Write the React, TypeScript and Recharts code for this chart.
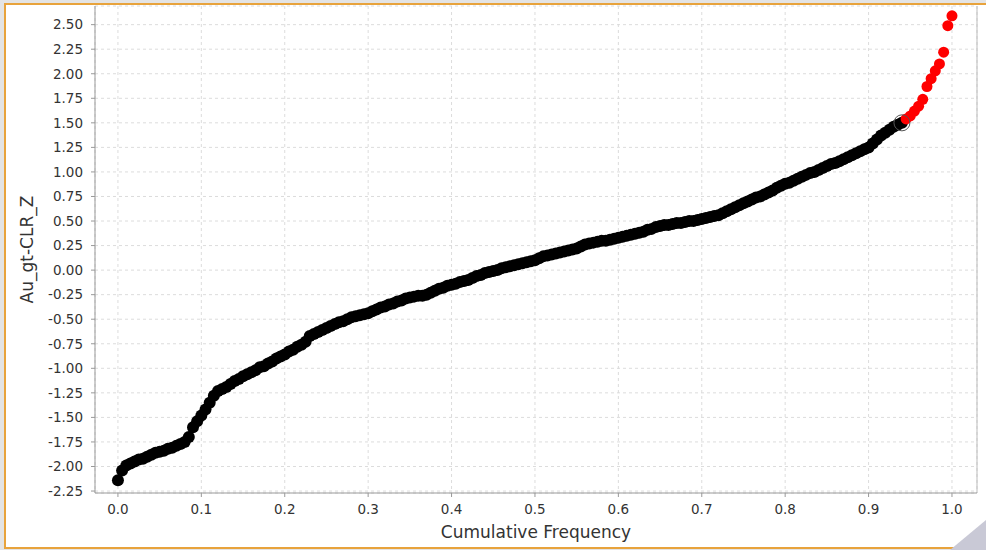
import { ScatterChart, Scatter, XAxis, YAxis, CartesianGrid, ReferenceLine } from 'recharts';

// Au_gt-CLR_Z values, sorted (cumulative frequency = rank / (n - 1))
const zValues = [
  -2.14, -2.04, -1.99, -1.97, -1.95, -1.93, -1.92, -1.9, -1.88, -1.86,
  -1.85, -1.84, -1.82, -1.81, -1.79, -1.77, -1.75, -1.7, -1.6, -1.54,
  -1.48, -1.42, -1.35, -1.28, -1.23, -1.21, -1.19, -1.16, -1.13, -1.11,
  -1.08, -1.06, -1.04, -1.02, -0.99, -0.98, -0.95, -0.93, -0.9, -0.88,
  -0.86, -0.83, -0.81, -0.78, -0.76, -0.73, -0.67, -0.65, -0.63, -0.61,
  -0.59, -0.57, -0.55, -0.53, -0.52, -0.5, -0.48, -0.47, -0.46, -0.45,
  -0.44, -0.42, -0.4, -0.38, -0.37, -0.35, -0.34, -0.32, -0.31, -0.29,
  -0.28, -0.27, -0.26, -0.26, -0.25, -0.23, -0.21, -0.19, -0.18, -0.16,
  -0.15, -0.14, -0.12, -0.11, -0.1, -0.08, -0.06, -0.05, -0.03, -0.02,
  -0.01, 0.0, 0.02, 0.03, 0.04, 0.05, 0.06, 0.07, 0.08, 0.09,
  0.1, 0.12, 0.14, 0.15, 0.16, 0.17, 0.18, 0.19, 0.2, 0.21,
  0.22, 0.24, 0.26, 0.27, 0.28, 0.29, 0.3, 0.3, 0.31, 0.32,
  0.33, 0.34, 0.35, 0.36, 0.37, 0.38, 0.39, 0.41, 0.42, 0.44,
  0.45, 0.46, 0.46, 0.47, 0.48, 0.48, 0.49, 0.5, 0.5, 0.51,
  0.52, 0.53, 0.54, 0.55, 0.56, 0.58, 0.6, 0.62, 0.64, 0.66,
  0.68, 0.7, 0.72, 0.74, 0.75, 0.77, 0.79, 0.81, 0.84, 0.86,
  0.88, 0.89, 0.91, 0.93, 0.95, 0.97, 0.99, 1.0, 1.02, 1.04,
  1.06, 1.08, 1.09, 1.11, 1.13, 1.15, 1.17, 1.19, 1.21, 1.23,
  1.25, 1.29, 1.33, 1.37, 1.4, 1.43, 1.46, 1.48, 1.5, 1.54,
  1.57, 1.62, 1.67, 1.74, 1.87, 1.95, 2.03, 2.1, 2.22, 2.49, 2.59,
];

// values above this are drawn red
const threshold = 1.5;

const xTicks = [0, 0.1, 0.2, 0.3, 0.4, 0.5, 0.6, 0.7, 0.8, 0.9, 1.0];
const yTicks = [
  -2.25, -2, -1.75, -1.5, -1.25, -1, -0.75, -0.5, -0.25, 0,
  0.25, 0.5, 0.75, 1, 1.25, 1.5, 1.75, 2, 2.25, 2.5,
];

const points = zValues.map((v, i) => ({ freq: i / (zValues.length - 1), value: v }));
const blackPts = points.filter((p) => p.value <= threshold);
const redPts = points.filter((p) => p.value > threshold);
const markedPt = [blackPts[blackPts.length - 1]];

const dot = (color: string, r: number) => (props: any) => (
  <circle cx={props.cx} cy={props.cy} r={r} fill={color} />
);

const ring = (props: any) => (
  <circle cx={props.cx} cy={props.cy} r={8} fill="none" stroke="#555" strokeWidth={1} />
);

const tickStyle = { fill: '#333', fontSize: 13.5, fontFamily: 'DejaVu Sans' };
const labelStyle = { fill: '#333', fontSize: 17, fontFamily: 'DejaVu Sans' };

export default function App() {
  return (
    <div style={{ position: 'absolute', left: 0, top: 0, width: 986, height: 550, overflow: 'hidden', background: '#e4e4e4' }}>
      <div
        style={{
          position: 'absolute',
          left: 4,
          top: 3,
          width: 1000,
          height: 546,
          boxSizing: 'border-box',
          border: '2px solid #e8a33c',
          background: '#fff',
        }}
      />
      <div style={{ position: 'absolute', left: 0, top: 0 }}>
        <ScatterChart width={986} height={550} margin={{ top: 6, right: 9, bottom: 7, left: 0 }}>
          <CartesianGrid strokeDasharray="3 3" stroke="#dcdcdc" />
          <XAxis
            type="number"
            dataKey="freq"
            domain={[-0.0275, 1.03]}
            ticks={xTicks}
            tickFormatter={(v: number) => v.toFixed(1)}
            allowDataOverflow
            height={50}
            tickSize={4}
            tickMargin={7}
            stroke="#999"
            tick={tickStyle}
            label={{ value: 'Cumulative Frequency', position: 'insideBottom', offset: 5, style: labelStyle }}
          />
          <YAxis
            type="number"
            dataKey="value"
            domain={[-2.27, 2.69]}
            ticks={yTicks}
            tickFormatter={(v: number) => v.toFixed(2)}
            allowDataOverflow
            width={95}
            tickSize={4}
            tickMargin={8}
            stroke="#999"
            tick={tickStyle}
            label={{
              value: 'Au_gt-CLR_Z',
              angle: -90,
              position: 'insideLeft',
              offset: 27,
              style: { ...labelStyle, textAnchor: 'middle' },
            }}
          />
          <ReferenceLine x={1.03} stroke="#bbb" />
          <Scatter data={blackPts} fill="#000" shape={dot('#000', 6)} isAnimationActive={false} />
          <Scatter data={redPts} fill="#ff0000" shape={dot('#ff0000', 5.5)} isAnimationActive={false} />
          <Scatter data={markedPt} fill="none" shape={ring} isAnimationActive={false} />
        </ScatterChart>
      </div>
      <svg style={{ position: 'absolute', right: 0, bottom: 0 }} width={40} height={30}>
        <polygon points="40,0 40,30 4,30" fill="#c9c9d6" />
      </svg>
    </div>
  );
}
